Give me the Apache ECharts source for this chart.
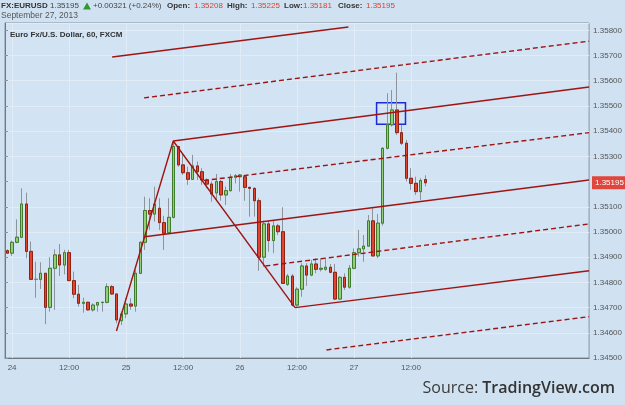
<!DOCTYPE html>
<html>
<head>
<meta charset="utf-8">
<script src="https://cdn.jsdelivr.net/npm/echarts@6/dist/echarts.min.js"></script>
<style>
  html, body { margin: 0; padding: 0; background: #d0e2f2; }
  #main { width: 625px; height: 405px; }
</style>
</head>
<body>
<div id="main"></div>
<script>
// hourly EUR/USD candles, 23 Sep 23:00 .. 27 Sep 15:00 (2013)
var opens = [1.34926, 1.34916, 1.34959, 1.34979, 1.35111, 1.34923, 1.34812, 1.34812, 1.34836, 1.34701,
  1.34856, 1.34909, 1.34869, 1.34918, 1.34807, 1.34753, 1.34717, 1.34721, 1.34691, 1.34710,
  1.34720, 1.34721, 1.34783, 1.34754, 1.34648, 1.34675, 1.34714, 1.34706, 1.34836, 1.34959,
  1.35085, 1.35071, 1.35094, 1.35037, 1.34997, 1.35058, 1.35339, 1.35266, 1.35235, 1.35209,
  1.35262, 1.35239, 1.35206, 1.35190, 1.35155, 1.35200, 1.35147, 1.35164, 1.35217, 1.35219,
  1.35219, 1.35177, 1.35173, 1.35124, 1.34900, 1.35032, 1.34966, 1.35024, 1.35001, 1.34792,
  1.34825, 1.34710, 1.34773, 1.34865, 1.34829, 1.34873, 1.34852, 1.34852, 1.34860, 1.34840,
  1.34734, 1.34820, 1.34781, 1.34856, 1.34918, 1.34933, 1.34944, 1.35044, 1.34905, 1.35035,
  1.35332, 1.35425, 1.35484, 1.35394, 1.35352, 1.35213, 1.35193, 1.35160, 1.35208];
var closes = [1.34916, 1.34959, 1.34979, 1.35111, 1.34923, 1.34812, 1.34812, 1.34836, 1.34701, 1.34856,
  1.34909, 1.34869, 1.34918, 1.34807, 1.34753, 1.34717, 1.34721, 1.34691, 1.34710, 1.34720,
  1.34721, 1.34783, 1.34754, 1.34651, 1.34675, 1.34714, 1.34706, 1.34836, 1.34959, 1.35085,
  1.35071, 1.35111, 1.35037, 1.34995, 1.35058, 1.35339, 1.35266, 1.35235, 1.35209, 1.35262,
  1.35239, 1.35206, 1.35190, 1.35151, 1.35200, 1.35147, 1.35164, 1.35217, 1.35223, 1.35226,
  1.35177, 1.35173, 1.35124, 1.34900, 1.35032, 1.34966, 1.35024, 1.35001, 1.34796, 1.34825,
  1.34710, 1.34773, 1.34865, 1.34829, 1.34873, 1.34852, 1.34856, 1.34860, 1.34840, 1.34734,
  1.34820, 1.34781, 1.34856, 1.34918, 1.34933, 1.34944, 1.35044, 1.34905, 1.35035, 1.35332,
  1.35425, 1.35484, 1.35394, 1.35352, 1.35213, 1.35193, 1.35160, 1.35204, 1.35195];
var lows = [1.34913, 1.34905, 1.34955, 1.34975, 1.34896, 1.34810, 1.34739, 1.34774, 1.34634, 1.34684,
  1.34691, 1.34825, 1.34832, 1.34805, 1.34737, 1.34704, 1.34680, 1.34688, 1.34684, 1.34684,
  1.34684, 1.34717, 1.34750, 1.34638, 1.34631, 1.34658, 1.34691, 1.34684, 1.34833, 1.34929,
  1.35008, 1.35041, 1.35008, 1.34929, 1.34995, 1.35054, 1.35259, 1.35226, 1.35187, 1.35206,
  1.35206, 1.35187, 1.35173, 1.35120, 1.35127, 1.35124, 1.35107, 1.35160, 1.35193, 1.35160,
  1.35124, 1.35061, 1.35061, 1.34846, 1.34862, 1.34922, 1.34916, 1.34988, 1.34794, 1.34786,
  1.34704, 1.34704, 1.34743, 1.34786, 1.34824, 1.34836, 1.34843, 1.34846, 1.34836, 1.34730,
  1.34730, 1.34770, 1.34775, 1.34852, 1.34902, 1.34882, 1.34942, 1.34902, 1.34896, 1.35025,
  1.35328, 1.35418, 1.35385, 1.35345, 1.35200, 1.35167, 1.35147, 1.35127, 1.35181];
var highs = [1.34931, 1.34966, 1.35050, 1.35173, 1.35156, 1.34962, 1.34882, 1.34880, 1.34838, 1.34900,
  1.34931, 1.34952, 1.34929, 1.34929, 1.34843, 1.34790, 1.34739, 1.34723, 1.34717, 1.34723,
  1.34724, 1.34796, 1.34790, 1.34756, 1.34684, 1.34737, 1.34737, 1.34849, 1.34962, 1.35140,
  1.35134, 1.35180, 1.35134, 1.35064, 1.35134, 1.35358, 1.35342, 1.35310, 1.35259, 1.35306,
  1.35279, 1.35253, 1.35213, 1.35200, 1.35230, 1.35206, 1.35180, 1.35230, 1.35230, 1.35230,
  1.35226, 1.35180, 1.35177, 1.35134, 1.35045, 1.35045, 1.35045, 1.35032, 1.35098, 1.34833,
  1.34833, 1.34781, 1.34876, 1.34876, 1.34889, 1.34896, 1.34896, 1.34892, 1.34873, 1.34873,
  1.34825, 1.34836, 1.34869, 1.34935, 1.35008, 1.34988, 1.35067, 1.35094, 1.35071, 1.35336,
  1.35550, 1.35563, 1.35632, 1.35425, 1.35365, 1.35253, 1.35219, 1.35213, 1.35225];

var yTicks = { min: 1.345, max: 1.35829, step: 0.001 };
var slotCount = 123; // hourly slots on the x axis (candles + empty right margin)

// pitchfork drawing, x in hour slots from the left edge, y in price
var zigzag = [[23.47, 1.34607], [35.43, 1.35361], [61.08, 1.34700]];
var solidLines = [
  [[22.57, 1.35694], [72.31, 1.35813]],
  [[35.43, 1.35361], [123, 1.35575]],
  [[29.43, 1.34981], [123, 1.35206]],
  [[61.08, 1.34700], [123, 1.34846]]
];
var dashedLines = [
  [[29.28, 1.35532], [123, 1.35757]],
  [[41.88, 1.35204], [123, 1.35394]],
  [[54.83, 1.34865], [123, 1.35032]],
  [[67.70, 1.34532], [123, 1.34664]]
];
var boxArea = [[78.25, 1.35513], [84.34, 1.35427]];

var lastPrice = 1.35195;

function pad(n) { return (n < 10 ? '0' : '') + n; }
var start = Date.UTC(2013, 8, 23, 23);
var timeLabels = [];
for (var i = 0; i < slotCount; i++) {
  var d = new Date(start + i * 3600000);
  timeLabels.push(pad(d.getUTCDate()) + ' ' + pad(d.getUTCHours()) + ':00');
}
// only label the hours that have candles (the weekend has none)
function isMajor(idx) {
  if (idx >= opens.length) return false;
  var h = timeLabels[idx].slice(3);
  return h === '00:00' || h === '12:00';
}

var wickData = [], bodyData = [];
for (var j = 0; j < opens.length; j++) {
  wickData.push([opens[j], closes[j], lows[j], highs[j]]);
  bodyData.push([opens[j], closes[j], Math.min(opens[j], closes[j]), Math.max(opens[j], closes[j])]);
}

var lineColor = '#a01414';
var series = [
  {
    type: 'candlestick', name: 'wick', data: wickData, barWidth: 3,
    itemStyle: { color: 'rgba(0,0,0,0)', color0: 'rgba(0,0,0,0)', borderColor: '#8d9399', borderColor0: '#8d9399', borderColorDoji: '#8d9399', borderWidth: 1 }
  },
  {
    type: 'candlestick', name: 'body', data: bodyData, barWidth: 3,
    itemStyle: { color: '#93cf78', color0: '#e2452f', borderColor: '#3f7c2c', borderColor0: '#8e2313', borderColorDoji: '#7d8388', borderWidth: 1 }
  },
  {
    type: 'line', xAxisIndex: 1, data: zigzag, symbol: 'none', z: 5,
    lineStyle: { color: lineColor, width: 1.4 },
    markArea: {
      silent: true,
      itemStyle: { color: 'rgba(0,0,0,0)', borderColor: '#1d2ad8', borderWidth: 1.5 },
      data: [[{ coord: boxArea[0] }, { coord: boxArea[1] }]]
    }
  }
];
solidLines.forEach(function (l) {
  series.push({ type: 'line', xAxisIndex: 1, data: l, symbol: 'none', z: 5, lineStyle: { color: lineColor, width: 1.4 } });
});
dashedLines.forEach(function (l) {
  series.push({ type: 'line', xAxisIndex: 1, data: l, symbol: 'none', z: 5, lineStyle: { color: lineColor, width: 1.4, type: [5, 3] } });
});

var chart = echarts.init(document.getElementById('main'));
var font = 'Liberation Sans, Arial, sans-serif';
var option = {
  animation: false,
  backgroundColor: '#d0e2f2',
  textStyle: { fontFamily: font },
  grid: { left: 5, right: 34, top: 23, bottom: 47, show: true, borderColor: '#8a929b', borderWidth: 1, backgroundColor: '#d2e3f3' },
  xAxis: [
    {
      type: 'category', data: timeLabels, boundaryGap: true,
      axisLine: { lineStyle: { color: '#6f7780' } },
      axisTick: { interval: isMajor, alignWithLabel: true, length: 3, lineStyle: { color: '#8a929b' } },
      axisLabel: {
        interval: isMajor, fontSize: 8, color: '#555', margin: 6,
        formatter: function (v) { return v.slice(3) === '00:00' ? String(+v.slice(0, 2)) : '12:00'; }
      },
      splitLine: { show: true, interval: isMajor, alignWithLabel: true, lineStyle: { color: '#e2ecf6' } }
    },
    { type: 'value', min: 0, max: slotCount, show: false }
  ],
  yAxis: {
    type: 'value', position: 'right', scale: true,
    min: yTicks.min, max: yTicks.max, interval: yTicks.step,
    axisLine: { show: true, lineStyle: { color: '#6f7780' } },
    axisTick: { show: true, length: 3, lineStyle: { color: '#8a929b' } },
    axisLabel: { fontSize: 8, color: '#555', margin: 4, showMaxLabel: false, formatter: function (v) { return v.toFixed(5); } },
    splitLine: { show: true, lineStyle: { color: '#e2ecf6' } }
  },
  series: series
};
chart.setOption(option);

var red = '#d9412f';
var hdr = { fontSize: 8, fontFamily: font, fill: '#333', verticalAlign: 'middle' };
function txt(x, y, s, extra, z) {
  var st = Object.assign({}, hdr, extra || {}, { text: s });
  return { type: 'text', x: x, y: y, z: z || 1, style: st, silent: true };
}
var py = chart.convertToPixel({ yAxisIndex: 0 }, lastPrice);
chart.setOption({
  graphic: [
    txt(1, 6, 'FX:EURUSD', { fontWeight: 'bold' }),
    txt(50, 6, '1.35195', { fill: '#444' }),
    { type: 'polygon', shape: { points: [[83, 9.5], [87, 2.5], [91, 9.5]] }, style: { fill: '#2f9a33' }, silent: true },
    txt(93, 6, '+0.00321 (+0.24%)', { fill: '#444' }),
    txt(167, 6, 'Open:', { fontWeight: 'bold' }),
    txt(194, 6, '1.35208', { fill: red }),
    txt(227, 6, 'High:', { fontWeight: 'bold' }),
    txt(251, 6, '1.35225', { fill: red }),
    txt(284, 6, 'Low:', { fontWeight: 'bold' }),
    txt(303, 6, '1.35181', { fill: red }),
    txt(338, 6, 'Close:', { fontWeight: 'bold' }),
    txt(366, 6, '1.35195', { fill: red }),
    txt(1, 16, 'September 27, 2013', { fontSize: 8.5, fill: '#555' }),
    txt(10, 35, 'Euro Fx/U.S. Dollar, 60, FXCM', { fontWeight: 'bold', fontSize: 8, fill: '#333' }),
    { type: 'rect', shape: { x: 592, y: py - 6.5, width: 33, height: 13 }, style: { fill: '#e0463c' }, silent: true, z: 10 },
    txt(595, py, lastPrice.toFixed(5), { fill: '#fff', fontSize: 8 }, 11),
    {
      type: 'text', x: 615, y: 388, silent: true,
      style: {
        text: '{a|Source: }{b|TradingView.com}', align: 'right', verticalAlign: 'middle',
        rich: {
          a: { fontFamily: 'Open Sans', fontSize: 16, fill: '#3b3b3b', color: '#3b3b3b' },
          b: { fontFamily: 'Open Sans', fontSize: 16, fontWeight: 600, fill: '#333', color: '#333' }
        }
      }
    }
  ]
});
</script>
</body>
</html>
